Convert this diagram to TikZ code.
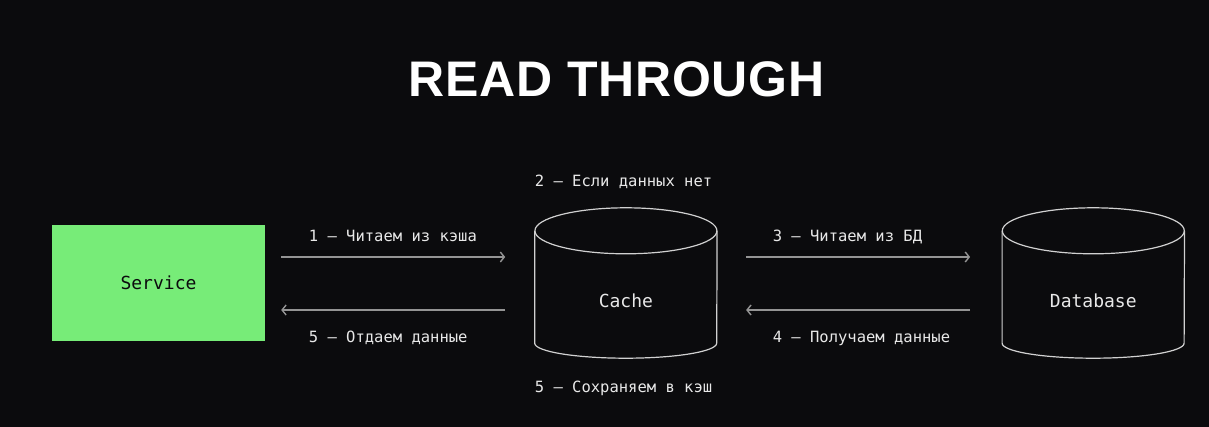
\documentclass[tikz,border=0pt]{standalone}
\usepackage{fontspec}
\usepackage{xcolor}
\usepackage{tikz}
\usetikzlibrary{positioning, arrows.meta}

\newfontfamily\monofont{DejaVu Sans Mono}
\newfontfamily\titlefont[LetterSpace=1.5]{Liberation Sans}

\definecolor{bgdark}{HTML}{0B0B0D}
\definecolor{servicegreen}{HTML}{77EC78}
\definecolor{linegray}{HTML}{949494}
\definecolor{textlight}{HTML}{E8E8E8}

\begin{document}
\begin{tikzpicture}[
    x=1pt, y=-1pt,
    service/.style={
        rectangle,
        fill=servicegreen,
        minimum width=213pt,
        minimum height=116pt,
        text=bgdark,
        font=\monofont\fontsize{18}{20}\selectfont
    },
    store/.style={
        rectangle,
        minimum width=182pt,
        minimum height=150pt,
        inner sep=0pt
    },
    storetext/.style={
        text=textlight,
        font=\monofont\fontsize{18}{20}\selectfont
    },
    wall/.style={
        draw=textlight!90!black,
        line width=1.2pt
    },
    arrow/.style={
        draw=linegray,
        line width=1.4pt,
        -{Straight Barb[length=4pt, width=10pt]}
    },
    lbl/.style={
        text=textlight,
        inner sep=0pt,
        font=\monofont\fontsize{15.5}{17}\selectfont
    }
]

\fill[bgdark] (0,0) rectangle (1209,427);
\useasboundingbox (0,0) rectangle (1209,427);

\node[anchor=base, text=white, font=\titlefont\bfseries\fontsize{50}{56}\selectfont] (title) at (616.5,97) {READ THROUGH};

\node[service] (service) at (158.5,283) {Service};

\node[store, right=269.5pt of service] (cache) {};

\node[store, right=285pt of cache] (db) {};

% cylinders
\foreach \s in {cache, db} {
    \draw[wall] ([yshift=-23pt]\s.north) ellipse [x radius=91pt, y radius=23pt];
    \draw[wall] ([yshift=-23pt]\s.north west) -- ([yshift=15pt]\s.south west)
        arc[start angle=180, end angle=360, x radius=91pt, y radius=15pt]
        -- ([yshift=-23pt]\s.north east);
}

\node[storetext] (cachetext) at ([yshift=-18pt]cache.center) {Cache};
\node[storetext] (dbtext) at ([yshift=-18pt]db.center) {Database};

\node[lbl, anchor=base west] (cachemiss) at ([yshift=21pt]cache.north west) {2 – Если данных нет};
\node[lbl, anchor=base west] (cachesave) at ([yshift=-34pt]cache.south west) {5 – Сохраняем в кэш};


\draw[arrow]
([xshift=16pt, yshift=26pt]service.east) -- ([xshift=-29.5pt, yshift=26pt]cache.west)
node[lbl, at start, anchor=base west, xshift=27pt, yshift=15pt]{1 – Читаем из кэша};

\draw[arrow]
([xshift=-29.5pt, yshift=-27pt]cache.west) -- ([xshift=16pt, yshift=-27pt]service.east)
node[lbl, at end, anchor=base west, xshift=27pt, yshift=-32pt]{5 – Отдаем данные};


\draw[arrow]
([xshift=29pt, yshift=26pt]cache.east) -- ([xshift=-32pt, yshift=26pt]db.west)
node[lbl, at start, anchor=base west, xshift=26pt, yshift=15pt]{3 – Читаем из БД};

\draw[arrow]
([xshift=-32pt, yshift=-27pt]db.west) -- ([xshift=29pt, yshift=-27pt]cache.east)
node[lbl, at end, anchor=base west, xshift=26pt, yshift=-32pt]{4 – Получаем данные};


\end{tikzpicture}
\end{document}
